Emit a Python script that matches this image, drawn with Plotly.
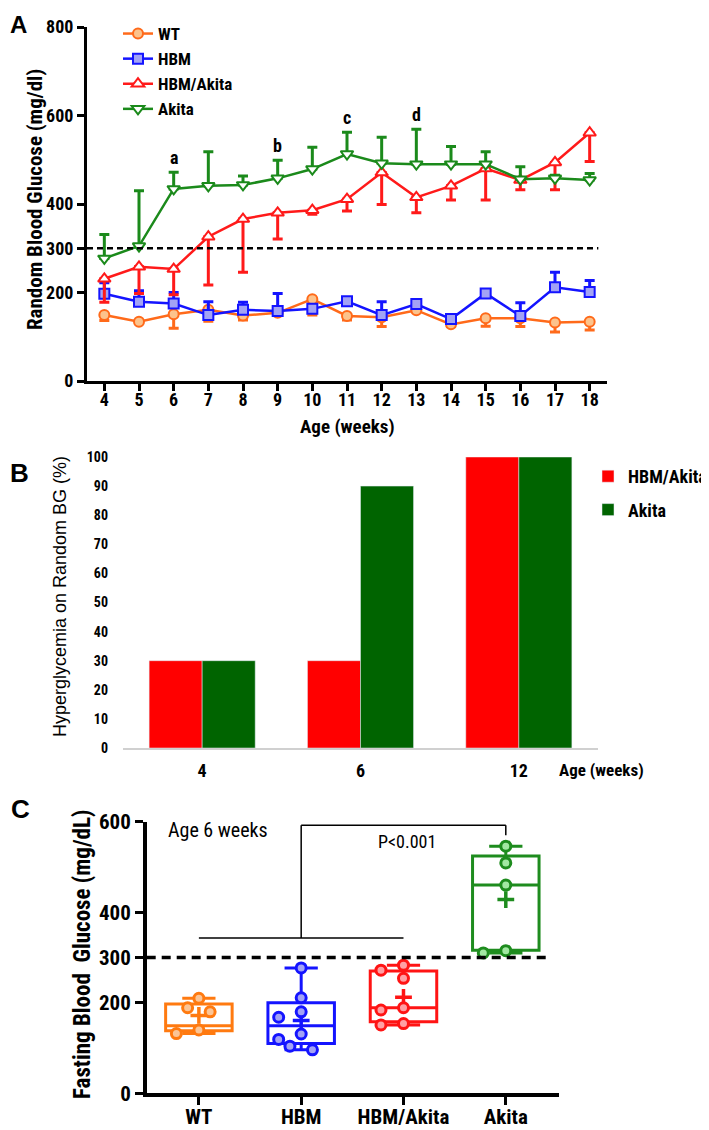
import plotly.graph_objects as go

# ---------------- data ----------------
weeks = [4, 5, 6, 7, 8, 9, 10, 11, 12, 13, 14, 15, 16, 17, 18]
wt_mean = [149, 134, 151, 161, 148, 154, 185, 147, 144, 160, 128, 142, 142, 132, 134]
wt_err_down = [12, 0, 32, 26, 10, 0, 36, 9, 21, 0, 5, 18, 19, 21, 19]
hbm_mean = [197, 179, 175, 149, 161, 158, 163, 180, 149, 174, 140, 198, 147, 212, 201]
hbm_err_up = [25, 25, 25, 30, 17, 40, 0, 8, 30, 9, 0, 3, 30, 34, 26]
ha_mean = [231, 258, 253, 326, 366, 380, 386, 411, 471, 415, 441, 480, 454, 494, 561]
ha_err_down = [53, 60, 58, 109, 120, 59, 9, 27, 72, 35, 32, 71, 22, 62, 65]
ak_mean = [277, 305, 434, 441, 443, 458, 479, 513, 492, 490, 490, 490, 456, 458, 454]
ak_err_up = [54, 125, 38, 77, 20, 41, 49, 49, 59, 79, 40, 28, 28, 7, 15]
sig_weeks = [6, 9, 11, 13]
sig_letters = ["a", "b", "c", "d"]
threshold = 300
a_yticks = [0, 200, 300, 400, 600, 800]

b_ages = ["4", "6", "12"]
b_hbm_akita = [30, 30, 100]
b_akita = [30, 90, 100]
b_yticks = [0, 10, 20, 30, 40, 50, 60, 70, 80, 90, 100]

c_groups = ["WT", "HBM", "HBM/Akita", "Akita"]
c_wt = [210, 189, 180, 140, 132]
c_hbm = [277, 211, 180, 168, 131, 119, 104, 96]
c_ha = [283, 272, 254, 189, 184, 154, 151]
c_ak = [546, 509, 460, 315, 310]
c_q1 = [138, 110, 158, 316]
c_median = [149, 149, 189, 460]
c_q3 = [197, 200, 270, 524]
c_low = [132, 96, 151, 310]
c_high = [210, 277, 283, 546]
c_mean = [172, 161, 212, 428]
c_yticks = [0, 200, 300, 400, 600]
bracket_low = 343
bracket_high = 592
bracket_drop = 570

# ---------------- layout helpers ----------------
OFF = 8  # page body margin
W, H = 709 - OFF, 1130 - OFF


def fx(p):
    return (p - OFF) / W


def fy(p):
    return 1 - (p - OFF) / H


NARROW = "Roboto Condensed, Liberation Sans, Arial, sans-serif"
SANS = "Liberation Sans, Arial, sans-serif"

fig = go.Figure()

# ---------------- Panel A ----------------
series = [
    ("WT", wt_mean, wt_err_down, "down", "#FF6A1A", "circle", "#FCC38C", 10),
    ("HBM", hbm_mean, hbm_err_up, "up", "#1414FF", "square", "#A3A3F5", 10),
    ("HBM/Akita", ha_mean, ha_err_down, "down", "#FF1A1A", "triangle-up", "#FFFFFF", 11),
    ("Akita", ak_mean, ak_err_up, "up", "#1B8A1B", "triangle-down", "#FFFFFF", 11),
]
for name, ys, err, direction, col, sym, fill, msize in series:
    zeros = [0] * len(err)
    fig.add_trace(go.Scatter(
        x=weeks, y=ys, name=name, mode="lines+markers",
        line=dict(color=col, width=2.5),
        marker=dict(symbol=sym, size=msize, color=fill, line=dict(color=col, width=2)),
        error_y=dict(type="data", symmetric=False,
                     array=err if direction == "up" else zeros,
                     arrayminus=err if direction == "down" else zeros,
                     color=col, thickness=3, width=5),
        xaxis="x", yaxis="y", legend="legend", legendgroup=name,
    ))

# ---------------- Panel B ----------------
fig.add_trace(go.Bar(x=b_ages, y=b_hbm_akita, name="HBM/Akita", marker_color="#FF0000",
                     xaxis="x2", yaxis="y2", legend="legend2", legendgroup="bHA"))
fig.add_trace(go.Bar(x=b_ages, y=b_akita, name="Akita", marker_color="#006400",
                     xaxis="x2", yaxis="y2", legend="legend2", legendgroup="bAK"))

# ---------------- Panel C ----------------
c_points = [c_wt, c_hbm, c_ha, c_ak]
c_line = ["#FF7A10", "#1414FF", "#FF1414", "#1E8C1E"]
c_fill = ["#FBC596", "#A3A3F5", "#FF9FA3", "#A2E8A2"]

Y_PX = (1093.3 - 821.7) / 600.0
X_PX = (559 - 146.7) / 4.03


def swarm(vals, diam=12.5, step=0.11):
    placed = []
    offs = [0.0] * len(vals)
    order = sorted(range(len(vals)), key=lambda i: -vals[i])
    for i in order:
        chosen = 0.0
        for k in [0, -1, 1, -2, 2]:
            o = k * step
            if all(((o - po) * X_PX) ** 2 + ((vals[i] - pv) * Y_PX) ** 2 >= diam ** 2
                   for po, pv in placed):
                chosen = o
                break
        offs[i] = chosen
        placed.append((chosen, vals[i]))
    return offs


for i, g in enumerate(c_groups):
    fig.add_trace(go.Box(
        x=[i], q1=[c_q1[i]], median=[c_median[i]], q3=[c_q3[i]],
        lowerfence=[c_low[i]], upperfence=[c_high[i]],
        width=0.65, whiskerwidth=0.5, boxpoints=False,
        line=dict(color=c_line[i], width=3), fillcolor="rgba(255,255,255,0)",
        showlegend=False, xaxis="x3", yaxis="y3", hoverinfo="skip",
    ))
    fig.add_trace(go.Scatter(
        x=[i], y=[c_mean[i]], mode="markers", showlegend=False,
        marker=dict(symbol="cross-thin", size=12, line=dict(color=c_line[i], width=3.5)),
        xaxis="x3", yaxis="y3",
    ))
    offs = swarm(c_points[i])
    fig.add_trace(go.Scatter(
        x=[i + o for o in offs], y=c_points[i], mode="markers", showlegend=False,
        marker=dict(symbol="circle", size=10, color=c_fill[i],
                    line=dict(color=c_line[i], width=3)),
        xaxis="x3", yaxis="y3",
    ))

# ---------------- shapes ----------------
shapes = [
    dict(type="line", xref="x", yref="y", x0=3.5, x1=18.25, y0=threshold, y1=threshold,
         line=dict(color="black", width=2.5, dash="6px,4px")),
    dict(type="line", xref="x3", yref="y3", x0=-0.51, x1=3.41, y0=threshold, y1=threshold,
         line=dict(color="black", width=3.5, dash="9px,6px")),
    dict(type="line", xref="x3", yref="y3", x0=0, x1=2, y0=bracket_low, y1=bracket_low,
         line=dict(color="black", width=1.5)),
    dict(type="line", xref="x3", yref="y3", x0=1, x1=1, y0=bracket_low, y1=bracket_high,
         line=dict(color="black", width=1.5)),
    dict(type="line", xref="x3", yref="y3", x0=1, x1=3, y0=bracket_high, y1=bracket_high,
         line=dict(color="black", width=1.5)),
    dict(type="line", xref="x3", yref="y3", x0=3, x1=3, y0=bracket_high, y1=bracket_drop,
         line=dict(color="black", width=1.5)),
]

# ---------------- annotations ----------------
ann = []
for wk, let in zip(sig_weeks, sig_letters):
    idx = weeks.index(wk)
    ann.append(dict(x=wk, y=ak_mean[idx] + ak_err_up[idx], xref="x", yref="y",
                    text=let, showarrow=False, yanchor="bottom", yshift=2,
                    font=dict(family=NARROW, size=18, color="black", weight="bold")))


def pa(text, x, y, size, family=NARROW, bold=True, angle=0, xanchor="center",
       yanchor="middle"):
    ann.append(dict(text=text, x=fx(x), y=fy(y), xref="paper", yref="paper",
                    showarrow=False, textangle=angle, xanchor=xanchor, yanchor=yanchor,
                    font=dict(family=family, size=size, color="black",
                              weight="bold" if bold else "normal")))


pa("A", 18, 8.5, 24, SANS, yanchor="top")
pa("B", 19, 473, 26, SANS)
pa("C", 20, 809, 26, SANS)
pa("Random Blood Glucose (mg/dl)", 35, 200, 21, angle=-90)
pa("Age (weeks)", 347, 426, 19)
pa("Hyperglycemia on Random BG (%)", 60, 597, 18, family=SANS, bold=False, angle=-90)
pa("Age (weeks)", 557, 770, 17, xanchor="left")
pa("Fasting Blood  Glucose (mg/dL)", 82, 955, 23, angle=-90)
pa("Age 6 weeks", 166, 830, 20, bold=False, xanchor="left")
pa("P<0.001", 407, 841, 18, bold=False)

axis_common = dict(showgrid=False, zeroline=False, color="black", automargin=False)

fig.update_layout(
    width=W, height=H, margin=dict(l=0, r=0, t=0, b=0, pad=0, autoexpand=False),
    paper_bgcolor="white", plot_bgcolor="white",
    barmode="group", bargap=0.33, bargroupgap=0,
    shapes=shapes, annotations=ann,
    xaxis=dict(domain=[fx(87), fx(607)], range=[3.5, 18.5], tickvals=weeks,
               ticks="outside", ticklen=7, tickwidth=2.5, showline=True, linewidth=3,
               linecolor="black", anchor="y", ticklabelstandoff=-7,
               tickfont=dict(family=NARROW, size=18, color="black", weight="bold"),
               **axis_common),
    yaxis=dict(domain=[fy(381), fy(27)], range=[0, 800], tickvals=a_yticks,
               ticks="outside", ticklen=7, tickwidth=2.5, showline=True, linewidth=3,
               linecolor="black", anchor="x",
               tickfont=dict(family=NARROW, size=18, color="black", weight="bold"),
               **axis_common),
    xaxis2=dict(domain=[fx(123), fx(598)], type="category", anchor="y2",
                showline=True, linewidth=1.5, linecolor="#D0D0D0", ticks="",
                ticklabelstandoff=6,
                tickfont=dict(family=NARROW, size=18, color="black", weight="bold"),
                **axis_common),
    yaxis2=dict(domain=[fy(748), fy(457)], range=[0, 100], tickvals=b_yticks, anchor="x2",
                showline=False, ticks="", ticklabelstandoff=14,
                tickfont=dict(family=NARROW, size=14, color="black", weight="bold"),
                **axis_common),
    xaxis3=dict(domain=[fx(146.7), fx(559)], range=[-0.51, 3.52], tickvals=[0, 1, 2, 3],
                ticktext=c_groups, anchor="y3", ticks="outside", ticklen=8,
                tickwidth=3, showline=True, linewidth=3.5, linecolor="black",
                ticklabelstandoff=-6,
                tickfont=dict(family=NARROW, size=21, color="black", weight="bold"),
                **axis_common),
    yaxis3=dict(domain=[fy(1093.3), fy(821.7)], range=[0, 600], tickvals=c_yticks,
                anchor="x3", ticks="outside", ticklen=8, tickwidth=3,
                showline=True, linewidth=3.5, linecolor="black",
                tickfont=dict(family=NARROW, size=21, color="black", weight="bold"),
                **axis_common),
    legend=dict(x=fx(118), y=fy(16), xanchor="left", yanchor="top",
                bgcolor="rgba(0,0,0,0)", itemwidth=30, tracegroupgap=0,
                font=dict(family=NARROW, size=17, color="black", weight="bold")),
    legend2=dict(x=fx(588), y=fy(458), xanchor="left", yanchor="top",
                 bgcolor="rgba(0,0,0,0)", itemwidth=30, tracegroupgap=7,
                 font=dict(family=NARROW, size=18, color="black", weight="bold")),
)

fig.write_html("out.html")
